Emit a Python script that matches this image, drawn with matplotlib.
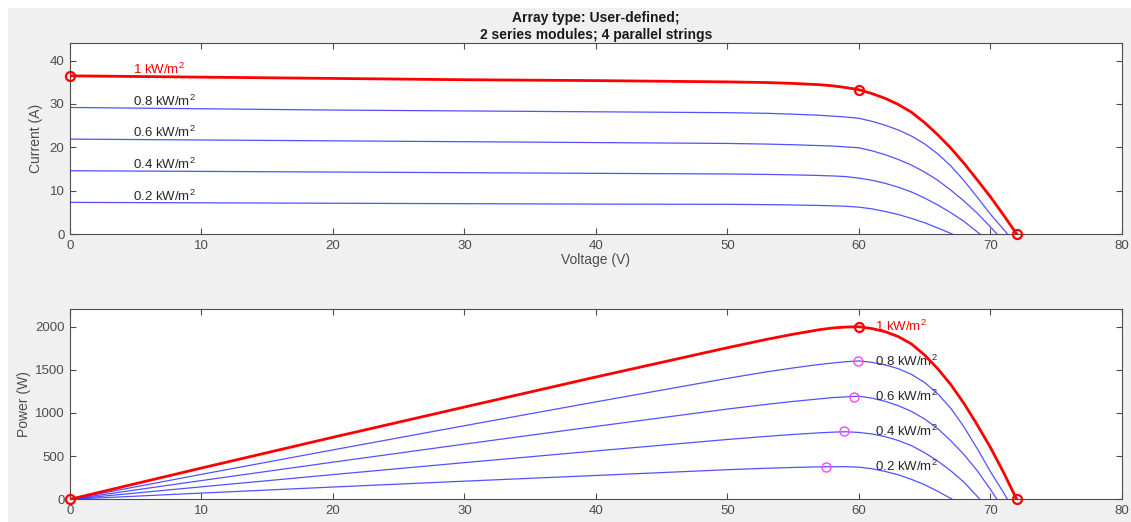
import numpy as np
import matplotlib
matplotlib.use("Agg")
import matplotlib.pyplot as plt
from matplotlib.patches import Rectangle

plt.rcParams['font.family'] = ['Liberation Sans', 'DejaVu Sans']
plt.rcParams['mathtext.fontset'] = 'custom'
plt.rcParams['mathtext.rm'] = 'Liberation Sans'
plt.rcParams['mathtext.it'] = 'Liberation Sans'

# I-V curves (voltage in V, current in A)
labels = ["1 kW/m$^2$", "0.8 kW/m$^2$", "0.6 kW/m$^2$", "0.4 kW/m$^2$", "0.2 kW/m$^2$"]

v_1000 = [0, 10, 20, 30, 40, 50, 53, 55, 57, 58, 59, 60, 61, 62, 63, 64, 65, 66, 67, 68, 69, 70, 71, 72]
i_1000 = [36.5, 36.2, 35.9, 35.6, 35.4, 35.1, 34.95, 34.75, 34.45, 34.2, 33.8, 33.3, 32.4, 31.3,
          29.9, 28.1, 25.7, 22.9, 19.8, 16.3, 12.5, 8.6, 4.4, 0]

v_800 = [0, 10, 20, 30, 40, 50, 53, 55, 57, 58, 59, 60, 61, 62, 63, 64, 65, 66, 67, 68, 69, 70, 71, 71.3]
i_800 = [29.2, 28.9, 28.6, 28.4, 28.2, 28.0, 27.85, 27.65, 27.4, 27.2, 27.0, 26.7, 26.0, 25.1,
         24.0, 22.6, 20.8, 18.5, 15.7, 12.3, 8.5, 4.6, 1.1, 0]

v_600 = [0, 10, 20, 30, 40, 50, 53, 55, 57, 58, 59, 60, 61, 62, 63, 64, 65, 66, 67, 68, 69, 70, 70.5]
i_600 = [21.9, 21.7, 21.5, 21.3, 21.1, 20.9, 20.75, 20.6, 20.4, 20.3, 20.1, 19.9, 19.2, 18.3,
         17.2, 15.9, 14.3, 12.4, 10.1, 7.6, 4.8, 1.65, 0]

v_400 = [0, 10, 20, 30, 40, 50, 53, 55, 57, 58, 59, 60, 61, 62, 63, 64, 65, 66, 67, 68, 69.2]
i_400 = [14.6, 14.45, 14.3, 14.15, 14.0, 13.85, 13.75, 13.65, 13.5, 13.4, 13.25, 12.9, 12.4,
         11.7, 10.8, 9.7, 8.3, 6.7, 4.9, 2.9, 0]

v_200 = [0, 10, 20, 30, 40, 50, 53, 55, 56.5, 57.5, 59, 60, 61, 62, 63, 64, 65, 66, 67.1]
i_200 = [7.3, 7.2, 7.1, 7.0, 6.9, 6.85, 6.78, 6.7, 6.62, 6.55, 6.4, 6.2, 5.8, 5.2, 4.5, 3.6,
         2.6, 1.4, 0]

# maximum power points
mpp_v = [60.0, 59.95, 59.6, 58.9, 57.5]
mpp_p = [2000, 1600, 1190, 785, 378]

curves = [(v_1000, i_1000), (v_800, i_800), (v_600, i_600), (v_400, i_400), (v_200, i_200)]

fig = plt.figure(figsize=(11.31, 5.22), dpi=100, facecolor='white')
fig.patches.append(Rectangle((8 / 1131, 0), 1, 1 - 8 / 522, transform=fig.transFigure,
                             facecolor='#f0f0f0', edgecolor='none', zorder=-10))

ax1 = fig.add_axes([0.0619, 0.5517, 0.930, 0.3653])
ax2 = fig.add_axes([0.0619, 0.0435, 0.930, 0.3640])

red = '#ff0000'
blue = '#3333ff'

for k, (v, i) in enumerate(curves):
    v = np.array(v)
    i = np.array(i)
    p = v * i
    if k == 0:
        ax1.plot(v, i, color=red, lw=2.0, zorder=4)
        ax2.plot(v, p, color=red, lw=2.0, zorder=4)
        ax1.plot([v[0], mpp_v[0], v[-1]], [i[0], mpp_p[0] / mpp_v[0], i[-1]], 'o',
                 mfc='none', mec=red, ms=6.5, mew=1.6, zorder=5, clip_on=False)
        ax2.plot([v[0], mpp_v[0], v[-1]], [p[0], mpp_p[0], p[-1]], 'o',
                 mfc='none', mec=red, ms=6.5, mew=1.6, zorder=5, clip_on=False)
        col = red
    else:
        ax1.plot(v, i, color=blue, lw=0.9, alpha=0.85, zorder=3)
        ax2.plot(v, p, color=blue, lw=0.9, alpha=0.85, zorder=3)
        ax2.plot(mpp_v[k], mpp_p[k], 'o', mfc='none', mec='#ff44ff', ms=6.5, mew=1.0, zorder=5)
        col = '#262626'
    ax1.text(4.8, i[0] + 0.4, labels[k], color=col, fontsize=9.5, ha='left', va='baseline')
    ax2.text(61.2, mpp_p[k], labels[k], color=col, fontsize=9.5, ha='left', va='center')

for ax in (ax1, ax2):
    ax.set_xlim(0, 80)
    ax.set_xticks(range(0, 81, 10))
    ax.tick_params(direction='in', top=True, right=True, length=4, width=0.8,
                   labelsize=9.5, labelcolor='#4d4d4d', color='#4d4d4d', pad=4)
    for s in ax.spines.values():
        s.set_color('#4d4d4d')
        s.set_linewidth(0.8)
    ax.set_facecolor('white')

ax1.set_ylim(0, 44)
ax1.set_yticks([0, 10, 20, 30, 40])
ax2.set_ylim(0, 2200)
ax2.set_yticks([0, 500, 1000, 1500, 2000])

ax1.set_xlabel('Voltage (V)', fontsize=10, color='#4d4d4d', labelpad=1)
ax1.set_ylabel('Current (A)', fontsize=10, color='#4d4d4d', labelpad=5)
ax2.set_ylabel('Power (W)', fontsize=10, color='#4d4d4d', labelpad=3)
ax1.set_title('Array type: User-defined;\n2 series modules; 4 parallel strings',
              fontsize=10, fontweight='bold', color='#1a1a1a', pad=3, linespacing=1.25)

fig.savefig('out.png', dpi=100, facecolor=fig.get_facecolor())
